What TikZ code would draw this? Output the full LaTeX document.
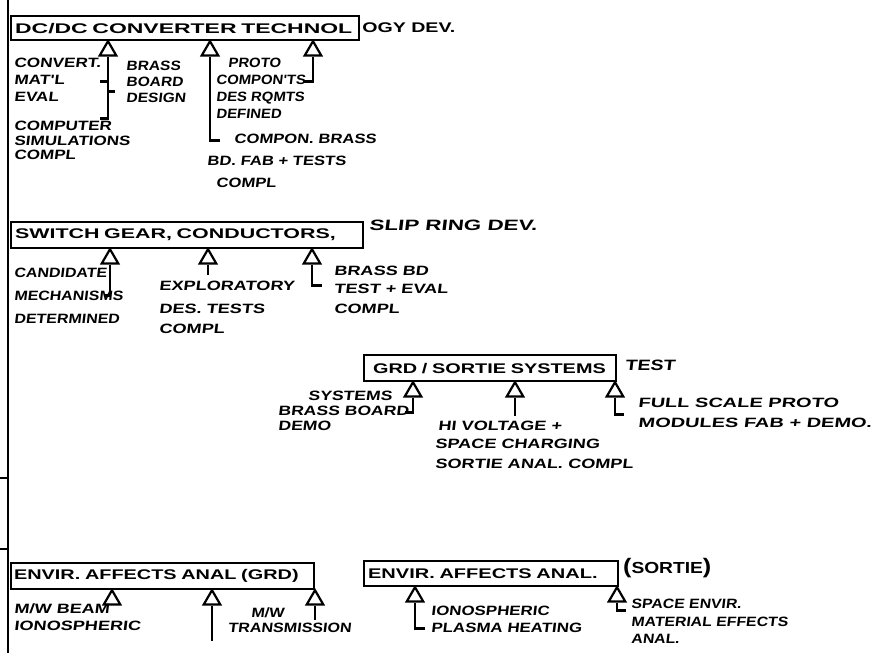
\documentclass[tikz,border=0pt]{standalone}
\usepackage{fontspec}
\usetikzlibrary{shapes.geometric}
\newfontfamily\boxfont{Liberation Sans}
\newfontfamily\tagfont[FakeSlant=0.12]{Liberation Sans}

\begin{document}
\begin{tikzpicture}[x=1pt, y=-1pt, line width=2.2pt,
    box/.style={draw, anchor=north west, inner xsep=6pt, inner ysep=0pt, align=left,
      font=\boxfont\addfontfeatures{FakeStretch=#1}\bfseries\fontsize{14}{16}\selectfont},
    box/.default=1.42,
    ms/.style={draw, regular polygon, regular polygon sides=3, minimum size=19pt,
      inner sep=0pt, anchor=corner 1},
    tag/.style={anchor=north west, inner sep=0pt, align=left,
      font=\tagfont\addfontfeatures{FakeStretch=#1}\bfseries\fontsize{13.5}{17}\selectfont},
    tag/.default=1.34,
    note/.style={anchor=west, inner sep=0pt,
      font=\boxfont\addfontfeatures{FakeStretch=#1}\bfseries\fontsize{14}{16}\selectfont},
    note/.default=1.4,
    side/.style={anchor=west, inner sep=0pt,
      font=\tagfont\addfontfeatures{FakeStretch=#1}\bfseries\fontsize{15}{17}\selectfont},
    side/.default=1.49]

    \useasboundingbox (0,0) rectangle (883,653);

    % Spine
    \coordinate (top) at (8,0);
    \coordinate (bottom) at (8,653);
    \draw (top) -- (bottom);
    \draw (0,478) -- (8,478);
    \draw (0,549) -- (8,549);

    % Boxes
    \node[box=1.64, inner xsep=4pt, text width=340pt, minimum height=24pt] (dcdc) at (10,15) {\mbox{DC/DC CONVERTER TECHNOL}};
    \node[note, inner xsep=1pt] (dev) at (dcdc.east) {OGY DEV.};
    \node[box=1.53, inner xsep=4pt, text width=344pt, minimum height=26pt] (gear) at (10,221) {\mbox{SWITCH GEAR, CONDUCTORS,}};
    \node[side] (slip) at (368,225) {SLIP RING DEV.};
    \node[box, inner xsep=9pt, text width=234pt, minimum height=26pt] (grd) at (363,354) {\mbox{GRD / SORTIE SYSTEMS}};
    \node[side=1.3] (test) at (624,365) {TEST};
    \node[box, inner xsep=3pt, text width=297pt, minimum height=26pt] (envg) at (10,562) {\mbox{ENVIR. AFFECTS ANAL (GRD)}};
    \node[box=1.43, inner xsep=4pt, text width=246pt, minimum height=25pt] (envs) at (363,560) {\mbox{ENVIR. AFFECTS ANAL.}};
    \node[note=1.2] (sortie) at (622,568) {{\fontsize{21}{21}\selectfont(}{\fontsize{16}{18}\selectfont SORTIE}{\fontsize{21}{21}\selectfont)}};

    % Milestones
    \node[ms] (dc1) at (108,39) {};
    \node[ms] (dc2) at (210,39) {};
    \node[ms] (dc3) at (313,39) {};
    \node[ms] (sg1) at (110,247) {};
    \node[ms] (sg2) at (208,247) {};
    \node[ms] (sg3) at (312,247) {};
    \node[ms] (gs1) at (413,380) {};
    \node[ms] (gs2) at (515,380) {};
    \node[ms] (gs3) at (615,380) {};
    \node[ms] (eg1) at (112,588) {};
    \node[ms] (eg2) at (212,588) {};
    \node[ms] (eg3) at (315,588) {};
    \node[ms] (es1) at (415,585) {};
    \node[ms] (es2) at (617,585) {};

    % Labels
    \node[tag=1.27] (conv) at (13,57) {CONVERT.\\MAT'L\\EVAL};
    \node[tag=1.15] (brass) at (125,60) {BRASS\\[-1pt]BOARD\\[-1pt]DESIGN};
    \node[tag=1.26] (comp) at (13,120) {COMPUTER\\[-2.5pt]SIMULATIONS\\[-2.5pt]COMPL};
    \node[tag=1.1] (proto) at (215,57) {\hspace*{12pt}PROTO\\COMPON'TS\\DES RQMTS\\DEFINED};
    \node[tag=1.23] (compon) at (206,133) {\hspace*{27pt}COMPON. BRASS\\[5pt]BD. FAB + TESTS\\[5pt]\hspace*{9pt}COMPL};
    \node[tag=1.18] (cand) at (13,267) {CANDIDATE\\[6pt]MECHANISMS\\[6pt]DETERMINED};
    \node[tag] (expl) at (158,280) {EXPLORATORY\\[6pt]DES. TESTS\\[3pt]COMPL};
    \node[tag] (bbd) at (333,265) {BRASS BD\\[1pt]TEST + EVAL\\[3pt]COMPL};
    \node[tag=1.3] (sys) at (277,390) {\hspace*{30pt}SYSTEMS\\[-2pt]BRASS BOARD\\[-2pt]DEMO};
    \node[tag] (hiv) at (434,420) {\hspace*{3pt}HI VOLTAGE +\\[1pt]SPACE CHARGING\\[3pt]SORTIE ANAL. COMPL};
    \node[tag=1.48] (full) at (637,397) {FULL SCALE PROTO\\[3pt]MODULES FAB + DEMO.};
    \node[tag] (mwb) at (13,603) {M/W BEAM\\IONOSPHERIC};
    \node[tag=1.19] (mwt) at (227,607) {\hspace*{23pt}M/W\\[-2pt]TRANSMISSION};
    \node[tag=1.25] (iono) at (430,605) {IONOSPHERIC\\PLASMA HEATING};
    \node[tag=1.17] (space) at (630,598) {SPACE ENVIR.\\[1pt]MATERIAL EFFECTS\\ANAL.};

    % Stems
    \draw (dc1.south) |- ++(-8,62); % to COMPUTER SIMULATIONS
    \draw (dc1.south) ++(0,25) -- ++(-8,0); % to MAT'L EVAL
    \draw (dc1.south) ++(0,35) -- ++(7,0); % to BRASS BOARD
    \draw (dc2.south) |- ++(10,84);
    \draw (dc3.south) |- ++(-10,25);
    \draw (sg1.south) |- ++(-6,31);
    \draw (sg2.south) -- ++(0,10);
    \draw (sg3.south) |- ++(10,21);
    \draw (gs1.south) |- ++(-8,15);
    \draw (gs2.south) -- ++(0,18);
    \draw (gs3.south) |- ++(9,17);
    \draw (eg2.south) -- ++(0,35);
    \draw (eg3.south) -- ++(0,14);
    \draw (es1.south) |- ++(10,26);
    \draw (es2.south) |- ++(9,8);

\end{tikzpicture}
\end{document}
